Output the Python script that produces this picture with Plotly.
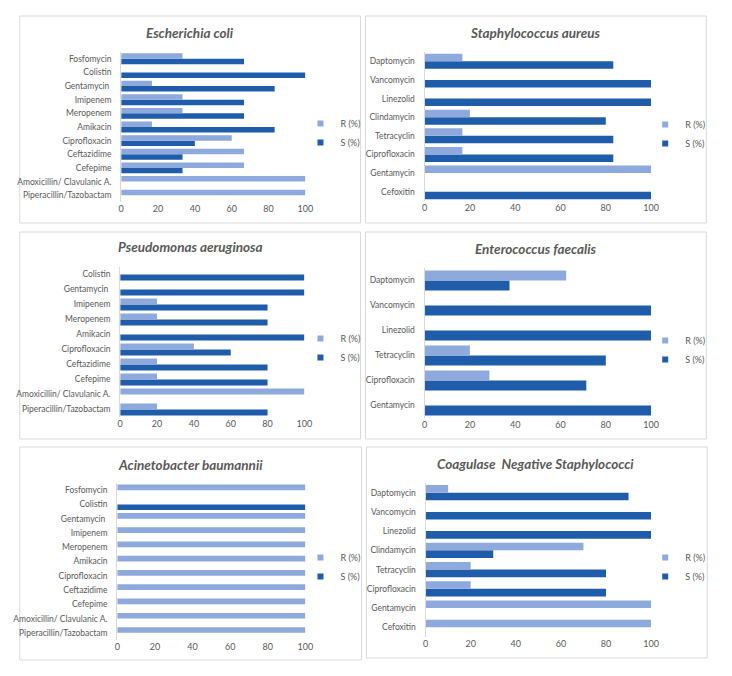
import plotly.graph_objects as go

W, H = 732, 676

# ---------------- data (categories listed bottom -> top) ----------------
gram_neg_drugs = ["Piperacillin/Tazobactam", "Amoxicillin/ Clavulanic A.", "Cefepime",
                  "Ceftazidime", "Ciprofloxacin", "Amikacin", "Meropenem", "Imipenem",
                  "Gentamycin ", "Colistin", "Fosfomycin"]
ecoli_R = [100, 100, 66.7, 66.7, 60, 16.7, 33.3, 33.3, 16.7, 0, 33.3]
ecoli_S = [0, 0, 33.3, 33.3, 40, 83.3, 66.7, 66.7, 83.3, 100, 66.7]

saureus_drugs = ["Cefoxitin", "Gentamycin", "Ciprofloxacin", "Tetracyclin",
                 "Clindamycin", "Linezolid", "Vancomycin", "Daptomycin"]
saureus_R = [0, 100, 16.7, 16.7, 20, 0, 0, 16.7]
saureus_S = [100, 0, 83.3, 83.3, 80, 100, 100, 83.3]

pseudo_drugs = ["Piperacillin/Tazobactam", "Amoxicillin/ Clavulanic A.", "Cefepime",
                "Ceftazidime", "Ciprofloxacin", "Amikacin", "Meropenem", "Imipenem",
                "Gentamycin ", "Colistin"]
pseudo_R = [20, 100, 20, 20, 40, 0, 20, 20, 0, 0]
pseudo_S = [80, 0, 80, 80, 60, 100, 80, 80, 100, 100]

entero_drugs = ["Gentamycin", "Ciprofloxacin", "Tetracyclin", "Linezolid",
                "Vancomycin", "Daptomycin"]
entero_R = [0, 28.6, 20, 0, 0, 62.5]
entero_S = [100, 71.4, 80, 100, 100, 37.5]

acineto_drugs = gram_neg_drugs
acineto_R = [100, 100, 100, 100, 100, 100, 100, 100, 100, 0, 100]
acineto_S = [0, 0, 0, 0, 0, 0, 0, 0, 0, 100, 0]

cons_drugs = ["Cefoxitin", "Gentamycin", "Ciprofloxacin", "Tetracyclin",
              "Clindamycin", "Linezolid", "Vancomycin", "Daptomycin"]
cons_R = [100, 100, 20, 20, 70, 0, 0, 10]
cons_S = [0, 0, 80, 80, 30, 100, 100, 90]

titles = ["Escherichia coli", "Staphylococcus aureus", "Pseudomonas aeruginosa",
          "Enterococcus faecalis", "Acinetobacter baumannii",
          "Coagulase  Negative Staphylococci"]
series_names = ["R (%)", "S (%)"]
x_ticks = [0, 20, 40, 60, 80, 100]

# ---------------- layout (page pixels) ----------------
panel_data = [
    (gram_neg_drugs, ecoli_R, ecoli_S),
    (saureus_drugs, saureus_R, saureus_S),
    (pseudo_drugs, pseudo_R, pseudo_S),
    (entero_drugs, entero_R, entero_S),
    (acineto_drugs, acineto_R, acineto_S),
    (cons_drugs, cons_R, cons_S),
]
# plot area: x0, x1, ytop, ybottom
plot_px = [
    (120, 307, 52, 202),
    (428, 658, 52, 201),
    (119, 306, 267, 417),
    (428, 658, 268, 418),
    (116, 307, 483, 640),
    (429, 658, 483, 637),
]
title_px = [(190, 33), (541, 33), (190, 247), (541, 249), (190, 465), (541, 464)]
legend_px = [(302, 133), (652, 134), (302, 348), (652, 350), (302, 567), (652, 567)]
border_px = [
    (17, 16, 363, 223), (368, 16, 714, 223),
    (17, 232, 363, 439), (368, 232, 714, 439),
    (17, 447, 364, 660), (369, 447, 715, 658),
]

C_R = "#8EA9DB"
C_S = "#1F5DAB"
TXT = "#595959"
FONT = "Lato, Carlito, Calibri, sans-serif"


def px(x):
    return x / W


def py(y):
    return 1 - y / H


fig = go.Figure()
layout = dict(
    width=W, height=H, autosize=False,
    margin=dict(l=0, r=0, t=0, b=0),
    paper_bgcolor="white", plot_bgcolor="white",
    barmode="group", bargap=0.2, bargroupgap=0,
    font=dict(family=FONT, color=TXT, size=9),
    shapes=[], annotations=[],
)

for i, (drugs, R, S) in enumerate(panel_data):
    n = "" if i == 0 else str(i + 1)
    xa, ya = "x" + n, "y" + n
    lg = "legend" + n
    x0, x1, yt, yb = plot_px[i]
    # S first -> bottom of each group, R above
    fig.add_trace(go.Bar(y=drugs, x=S, orientation="h", name=series_names[1],
                         marker=dict(color=C_S, line=dict(width=0)),
                         xaxis=xa, yaxis=ya, showlegend=False))
    fig.add_trace(go.Bar(y=drugs, x=R, orientation="h", name=series_names[0],
                         marker=dict(color=C_R, line=dict(width=0)),
                         xaxis=xa, yaxis=ya, showlegend=False))
    # legend entries (small squares like the Excel legend)
    for nm, col in zip(series_names, [C_R, C_S]):
        fig.add_trace(go.Scatter(x=[None], y=[None], mode="markers", name=nm,
                                 marker=dict(symbol="square", size=6, color=col),
                                 xaxis=xa, yaxis=ya, legend=lg, showlegend=True))
    layout["xaxis" + n] = dict(
        domain=[px(x0), px(x1)], anchor=ya, range=[0, 100], tickvals=x_ticks,
        showgrid=False, zeroline=False, showline=False, ticks="",
        tickfont=dict(size=9, color=TXT), fixedrange=True)
    layout["yaxis" + n] = dict(
        domain=[py(yb), py(yt)], anchor=xa, type="category",
        showgrid=False, zeroline=False, showline=True, linecolor="#D9D9D9",
        linewidth=1, ticks="", ticklabelstandoff=7,
        tickfont=dict(size=8.5, color=TXT), fixedrange=True)
    lx, ly = legend_px[i]
    layout[lg] = dict(x=px(lx), y=py(ly), xanchor="left", yanchor="middle",
                      bgcolor="rgba(0,0,0,0)", font=dict(size=9, color=TXT),
                      itemwidth=30, tracegroupgap=0)
    tx, ty = title_px[i]
    layout["annotations"].append(dict(
        text="<b><i>" + titles[i] + "</i></b>", x=px(tx), y=py(ty),
        xref="paper", yref="paper", xanchor="center", yanchor="middle",
        showarrow=False, font=dict(size=13.5, color=TXT, family=FONT)))
    bx0, by0, bx1, by1 = border_px[i]
    layout["shapes"].append(dict(
        type="rect", xref="paper", yref="paper",
        x0=px(bx0), x1=px(bx1), y0=py(by1), y1=py(by0),
        line=dict(color="#D9D9D9", width=1), fillcolor="rgba(0,0,0,0)",
        layer="below"))

fig.update_layout(**layout)
fig.write_html(
    "out.html",
    config={"displayModeBar": False, "staticPlot": False},
    post_script="document.body.style.margin='0';"
                "document.body.style.overflow='hidden';"
                "document.documentElement.style.overflow='hidden';",
)
